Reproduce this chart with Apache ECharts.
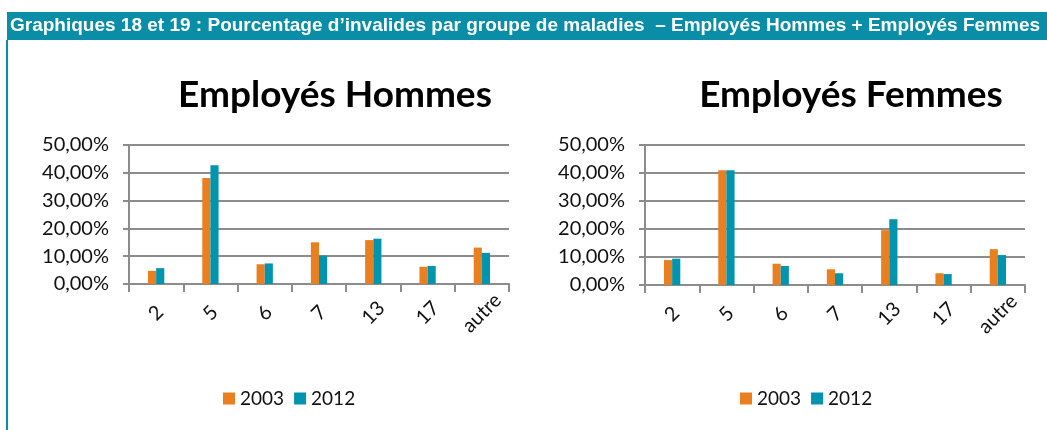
<!DOCTYPE html>
<html>
<head>
<meta charset="utf-8">
<script src="https://cdn.jsdelivr.net/npm/echarts@6/dist/echarts.min.js"></script>
<style>
  html, body { margin: 0; padding: 0; background: #fff; }
  #chart { width: 1047px; height: 430px; }
</style>
</head>
<body>
<div id="chart"></div>
<script>
// groupes de maladies
const categories = ["2", "5", "6", "7", "13", "17", "autre"];
const years = ["2003", "2012"];
// Employés Hommes (%)
const hommes2003 = [4.75, 38.1, 7.1, 15.0, 15.8, 6.2, 13.1];
const hommes2012 = [5.7, 42.7, 7.4, 10.2, 16.3, 6.5, 11.2];
// Employés Femmes (%)
const femmes2003 = [8.9, 41.0, 7.6, 5.6, 19.6, 4.2, 12.8];
const femmes2012 = [9.4, 41.0, 6.8, 4.2, 23.5, 3.9, 10.7];

const ORANGE = "#ea7f1f", TEAL = "#0094ae", HEAD = "#0a8ea8";
const FONT = "Lato, 'Open Sans', sans-serif";

let myChart = echarts.init(document.getElementById("chart"));

const axisGray = { color: "#8c8c8c", width: 2 };
const xAxis = (gridIndex) => ({
  gridIndex,
  type: "category",
  data: categories,
  axisLine: { lineStyle: axisGray },
  axisTick: { show: true, length: 8, lineStyle: axisGray },
  axisLabel: {
    rotate: 45,
    align: "center",
    verticalAlign: "middle",
    fontSize: 20,
    color: "#111",
    fontFamily: FONT,
    margin: 29,
  },
});
const yAxis = (gridIndex) => ({
  gridIndex,
  type: "value",
  min: 0,
  max: 50,
  interval: 10,
  axisLine: { show: true, lineStyle: axisGray },
  axisTick: { show: true, length: 6, lineStyle: axisGray },
  splitLine: { lineStyle: axisGray },
  axisLabel: {
    fontSize: 20,
    color: "#111",
    fontFamily: FONT,
    margin: 20,
    formatter: (v) => v.toFixed(2).replace(".", ",") + "%",
  },
});
const bar = (name, data, color, i) => ({
  name,
  type: "bar",
  xAxisIndex: i,
  yAxisIndex: i,
  data,
  itemStyle: { color },
  barGap: "0%",
  barCategoryGap: "70%",
});
const legend = (left) => ({
  data: years,
  left,
  top: 384,
  itemWidth: 12,
  itemHeight: 12,
  itemGap: 10,
  icon: "rect",
  textStyle: { fontSize: 19, color: "#111", fontFamily: FONT },
});

myChart.setOption({
  animation: false,
  graphic: [
    { type: "rect", shape: { x: 7, y: 12, width: 1040, height: 28 }, style: { fill: HEAD } },
    { type: "rect", shape: { x: 6, y: 40, width: 2, height: 390 }, style: { fill: HEAD } },
    {
      type: "text",
      left: 10,
      top: 16,
      style: {
        text: "Graphiques 18 et 19 : Pourcentage d’invalides par groupe de maladies  – Employés Hommes + Employés Femmes",
        fill: "#fff",
        font: "bold 19px 'Liberation Sans', Arial, sans-serif",
      },
    },
  ],
  title: [
    {
      text: "Employés Hommes",
      left: 330,
      top: 72,
      textAlign: "center",
      textStyle: { fontSize: 37, fontWeight: "bold", fontFamily: FONT, color: "#000" },
    },
    {
      text: "Employés Femmes",
      left: 846,
      top: 72,
      textAlign: "center",
      textStyle: { fontSize: 37, fontWeight: "bold", fontFamily: FONT, color: "#000" },
    },
  ],
  legend: [legend(218), legend(735)],
  grid: [
    { left: 129, top: 145, width: 380, height: 139 },
    { left: 645, top: 145, width: 380, height: 140 },
  ],
  xAxis: [xAxis(0), xAxis(1)],
  yAxis: [yAxis(0), yAxis(1)],
  series: [
    bar("2003", hommes2003, ORANGE, 0),
    bar("2012", hommes2012, TEAL, 0),
    bar("2003", femmes2003, ORANGE, 1),
    bar("2012", femmes2012, TEAL, 1),
  ],
});
</script>
</body>
</html>
